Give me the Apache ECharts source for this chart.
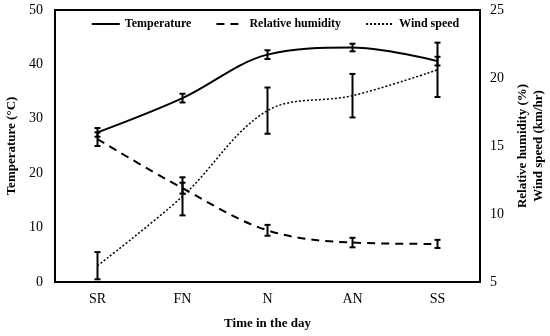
<!DOCTYPE html>
<html><head><meta charset="utf-8">
<script src="https://cdn.jsdelivr.net/npm/echarts@6/dist/echarts.min.js"></script>
<style>html,body{margin:0;padding:0;background:#fff}#c{width:550px;height:336px}</style>
</head><body><div id="c"></div>
<script>
const categories = ['SR', 'FN', 'N', 'AN', 'SS'];
const temperature = [27.5, 33.8, 41.8, 43.1, 40.6];
const temperatureErr = [0.8, 0.8, 0.8, 0.7, 0.8];
const humidity = [15.5, 11.9, 8.8, 7.9, 7.8];
const humidityErr = [0.5, 0.4, 0.4, 0.35, 0.3];
const wind = [6.2, 11.3, 17.6, 18.7, 20.6];
const windErr = [1.0, 1.4, 1.7, 1.6, 2.0];
const leftTicks = [0, 10, 20, 30, 40, 50];
const rightTicks = [5, 10, 15, 20, 25];

const font = '"Liberation Serif", "Times New Roman", serif';

function errData(vals, errs) {
  return vals.map((v, i) => [i, v - errs[i], v + errs[i]]);
}
function errSeries(vals, errs, yIdx) {
  return {
    type: 'custom', yAxisIndex: yIdx, silent: true, z: 5,
    data: errData(vals, errs),
    renderItem: function (params, api) {
      const x = api.value(0);
      const lo = api.coord([x, api.value(1)]);
      const hi = api.coord([x, api.value(2)]);
      const w = 3;
      const st = { stroke: '#000', lineWidth: 2 };
      return { type: 'group', children: [
        { type: 'line', shape: { x1: lo[0], y1: lo[1], x2: hi[0], y2: hi[1] }, style: st },
        { type: 'line', shape: { x1: lo[0] - w, y1: lo[1], x2: lo[0] + w, y2: lo[1] }, style: st },
        { type: 'line', shape: { x1: hi[0] - w, y1: hi[1], x2: hi[0] + w, y2: hi[1] }, style: st }
      ]};
    }
  };
}

const chart = echarts.init(document.getElementById('c'));
chart.setOption({
  animation: false,
  backgroundColor: '#fff',
  textStyle: { fontFamily: font },
  grid: { left: 55, right: 70, top: 10, bottom: 54, show: true, borderColor: '#000', borderWidth: 2,
    containLabel: false, outerBoundsMode: 'none' },
  legend: {
    top: 13, left: 'center', itemGap: 24, itemWidth: 28, itemHeight: 10,
    itemStyle: { opacity: 0 },
    textStyle: { fontFamily: font, fontWeight: 'bold', fontSize: 12, color: '#000' },
    data: ['Temperature', 'Relative humidity', 'Wind speed']
  },
  xAxis: {
    type: 'category', data: categories, boundaryGap: true,
    axisLine: { lineStyle: { color: '#000', width: 2 } },
    axisTick: { show: false },
    axisLabel: { color: '#000', fontSize: 14, fontFamily: font, margin: 10 },
    name: 'Time in the day', nameLocation: 'middle', nameGap: 35,
    nameTextStyle: { fontFamily: font, fontWeight: 'bold', fontSize: 13, color: '#000' }
  },
  yAxis: [
    {
      type: 'value', min: leftTicks[0], max: leftTicks[leftTicks.length - 1], interval: 10,
      splitLine: { show: false },
      axisLine: { show: true, lineStyle: { color: '#000', width: 2 } },
      axisTick: { show: false },
      axisLabel: { color: '#000', fontSize: 14, fontFamily: font, margin: 12 },
      name: 'Temperature (°C)', nameLocation: 'middle', nameGap: 35, nameRotate: 90,
      nameTextStyle: { fontFamily: font, fontWeight: 'bold', fontSize: 13, color: '#000' }
    },
    {
      type: 'value', min: rightTicks[0], max: rightTicks[rightTicks.length - 1], interval: 5,
      position: 'right',
      splitLine: { show: false },
      axisLine: { show: true, lineStyle: { color: '#000', width: 2 } },
      axisTick: { show: false },
      axisLabel: { color: '#000', fontSize: 14, fontFamily: font, margin: 10 },
      name: 'Relative humidity (%)\nWind speed (km/hr)', nameLocation: 'middle', nameGap: 35, nameRotate: 90,
      nameTextStyle: { fontFamily: font, fontWeight: 'bold', fontSize: 13, color: '#000', lineHeight: 16 }
    }
  ],
  series: [
    { name: 'Temperature', type: 'line', yAxisIndex: 0, data: temperature, smooth: 0.35, symbol: 'none',
      lineStyle: { color: '#000', width: 2, type: 'solid' }, itemStyle: { color: '#000' }, z: 3 },
    { name: 'Relative humidity', type: 'line', yAxisIndex: 1, data: humidity, smooth: 0.35, symbol: 'none',
      lineStyle: { color: '#000', width: 2, type: [8, 6] }, itemStyle: { color: '#000' }, z: 3 },
    { name: 'Wind speed', type: 'line', yAxisIndex: 1, data: wind, smooth: 0.35, symbol: 'none',
      lineStyle: { color: '#000', width: 1.5, type: [2, 2] }, itemStyle: { color: '#000' }, z: 3 },
    errSeries(temperature, temperatureErr, 0),
    errSeries(humidity, humidityErr, 1),
    errSeries(wind, windErr, 1)
  ]
});
</script></body></html>
